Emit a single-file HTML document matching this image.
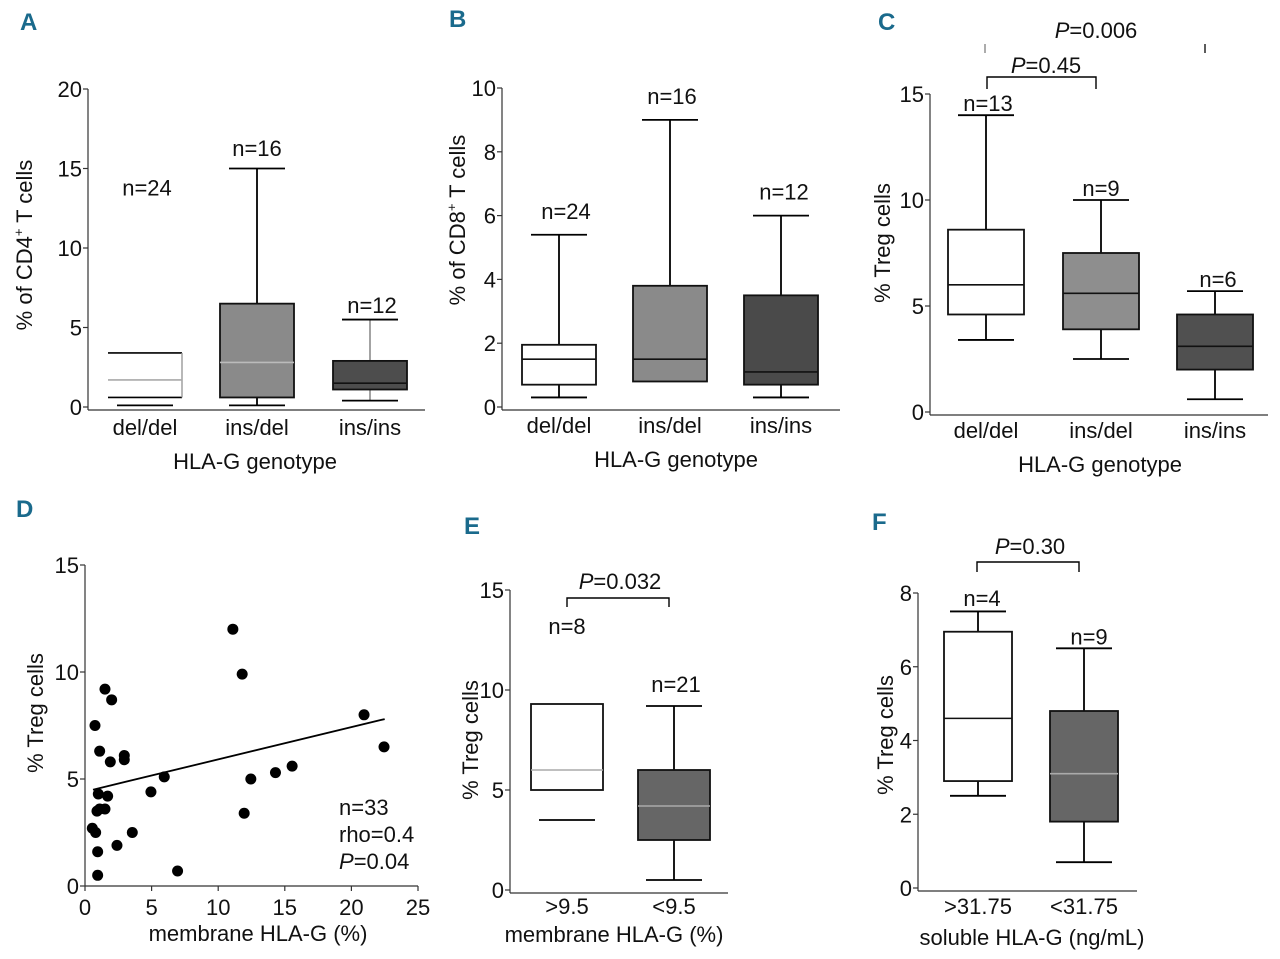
<!DOCTYPE html>
<html><head><meta charset="utf-8"><style>
html,body{margin:0;padding:0;background:#fff;}
svg{display:block;font-family:"Liberation Sans Narrow","Liberation Sans",sans-serif;}
</style></head><body>
<svg id="fig" width="1280" height="959" viewBox="0 0 1280 959"></svg>
<script>
// Panel A data
const aCats=["del/del","ins/del","ins/ins"];
const aMin=[0.1,0.1,0.4];
const aQ1=[0.6,0.6,1.1];
const aMed=[1.7,2.8,1.5];
const aQ3=[3.4,6.5,2.9];
const aMax=[0.1,15,5.5];
const aN=["n=24","n=16","n=12"];
const aTicks=[0,5,10,15,20];
// Panel B data
const bCats=["del/del","ins/del","ins/ins"];
const bMin=[0.3,0.8,0.3];
const bQ1=[0.7,0.8,0.7];
const bMed=[1.5,1.5,1.1];
const bQ3=[1.95,3.8,3.5];
const bMax=[5.4,9,6];
const bN=["n=24","n=16","n=12"];
const bTicks=[0,2,4,6,8,10];
// Panel C data
const cCats=["del/del","ins/del","ins/ins"];
const cMin=[3.4,2.5,0.6];
const cQ1=[4.6,3.9,2.0];
const cMed=[6.0,5.6,3.1];
const cQ3=[8.6,7.5,4.6];
const cMax=[14,10,5.7];
const cN=["n=13","n=9","n=6"];
const cTicks=[0,5,10,15];
// Panel D data
const dX=[11.1,11.8,1.5,2.0,0.75,1.1,1.9,2.95,2.95,5.95,4.95,1.0,1.7,0.9,1.5,1.1,0.55,0.8,3.55,2.4,0.95,0.95,6.95,11.95,12.45,14.3,15.55,20.95,22.45];
const dY=[12.0,9.9,9.2,8.7,7.5,6.3,5.8,6.1,5.9,5.1,4.4,4.3,4.2,3.5,3.6,3.6,2.7,2.5,2.5,1.9,1.6,0.5,0.7,3.4,5.0,5.3,5.6,8.0,6.5];
const dFitX=[0.6,22.5];
const dFitY=[4.5,7.8];
const dXTicks=[0,5,10,15,20,25];
const dYTicks=[0,5,10,15];
// Panel E data
const eCats=[">9.5","<9.5"];
const eMin=[3.5,0.5];
const eQ1=[5.0,2.5];
const eMed=[6.0,4.2];
const eQ3=[9.3,6.0];
const eMax=[9.3,9.2];
const eN=["n=8","n=21"];
const eTicks=[0,5,10,15];
// Panel F data
const fCats=[">31.75","<31.75"];
const fMin=[2.5,0.7];
const fQ1=[2.9,1.8];
const fMed=[4.6,3.1];
const fQ3=[6.95,4.8];
const fMax=[7.5,6.5];
const fN=["n=4","n=9"];
const fTicks=[0,2,4,6,8];

const NS="http://www.w3.org/2000/svg";
const svg=document.getElementById('fig');
function el(tag,attrs,parent,text){
  const e=document.createElementNS(NS,tag);
  for(const k in attrs)e.setAttribute(k,attrs[k]);
  if(text!==undefined)e.textContent=text;
  (parent||svg).appendChild(e);return e;
}
function line(p,x1,y1,x2,y2,c,w){return el('line',{x1,y1,x2,y2,stroke:c||'#000','stroke-width':w||1.5},p);}
function txt(p,x,y,s,size,anchor,extra){
  const t=el('text',Object.assign({x,y,'font-size':size||22,'text-anchor':anchor||'middle',fill:'#111'},extra||{}),p);
  t.innerHTML=s;return t;
}
function letter(x,y,s){
  const t=txt(svg,x,y,s,24,'start',{fill:'#1a6a8c','font-weight':'bold'});
  
  
}
function yaxis(g,ax,yS,ticks,top,bottom){
  const a=line(g,ax,top,ax,bottom,'#333',1.2);
  
  
  ticks.forEach(v=>{
    line(g,ax-5,yS(v),ax,yS(v),'#333',1.2);
    const t=txt(g,ax-6,yS(v)+8,String(v),22,'end');
    
    
  });
}
function boxPanel(o){
  const g=el('g',{});
  
  
  const yS=v=>o.y0-(v-o.ticks[0])*(o.y0-o.yTop)/(o.ticks[o.ticks.length-1]-o.ticks[0]);
  yaxis(g,o.ax,yS,o.ticks,o.yTop,o.y0+3);
  const xa=line(g,o.ax,o.y0+3,o.xEnd,o.y0+3,'#333',1.2);
  
  
  const half=o.bw/2;
  o.cats.forEach((c,i)=>{
    const cx=o.cx[i];
    const bg=el('g',{},g);
    
    
    const fill=o.fills[i];
    const noV=o.noVert&&o.noVert[i];
    if(o.max[i]>o.q3[i]){line(bg,cx,yS(o.q3[i]),cx,yS(o.max[i]),o.wc[i],1.8);line(bg,cx-28,yS(o.max[i]),cx+28,yS(o.max[i]),'#000',1.8);}
    if(o.min[i]<o.q1[i]){if(!noV)line(bg,cx,yS(o.q1[i]),cx,yS(o.min[i]),o.wc[i],1.8);line(bg,cx-28,yS(o.min[i]),cx+28,yS(o.min[i]),'#000',1.8);}
    if(o.open&&o.open[i]){
      line(bg,cx-half,yS(o.q3[i]),cx+half,yS(o.q3[i]),'#000',1.6);
      line(bg,cx-half,yS(o.q1[i]),cx+half,yS(o.q1[i]),'#000',1.6);
      line(bg,cx+half,yS(o.q3[i]),cx+half,yS(o.q1[i]),'#999',1.4);
    } else {
      el('rect',{x:cx-half,y:yS(o.q3[i]),width:o.bw,height:yS(o.q1[i])-yS(o.q3[i]),fill,stroke:'#111','stroke-width':1.8},bg);
    }
    line(bg,cx-half,yS(o.med[i]),cx+half,yS(o.med[i]),o.mc[i],1.6);
    const n=txt(g,o.nx[i],yS(o.ny[i]),o.n[i],22);
    
    
    const cl=txt(g,cx,o.catY,c,22);
    
    
  });
  const xt=txt(g,o.xtX,o.xtY,o.xTitle,22);
  
  
  const yt=txt(g,o.ytX,o.ytY,o.yTitle,22,'middle',{transform:`rotate(-90 ${o.ytX} ${o.ytY})`});
  
  
  return {g,yS};
}
function bracket(g,x1,x2,y,h,label,lx,ly){
  const p=el('path',{d:`M${x1},${y+h}V${y}H${x2}V${y+h}`,fill:'none',stroke:'#000','stroke-width':1.4},g);
  
  
  const t=txt(g,lx,ly,label,22);
  
  
}

letter(20,30,'A');letter(449,27,'B');letter(878,30,'C');
letter(16,517,'D');letter(464,534,'E');letter(872,530,'F');

boxPanel({name:'panel-a',ax:88,y0:407,yTop:89,ticks:aTicks,xEnd:425,cats:aCats,cx:[145,257,370],bw:74,
 min:aMin,q1:aQ1,med:aMed,q3:aQ3,max:aMax,n:aN,nx:[147,257,372],ny:[13.3,15.8,5.9],
 fills:['#fff','#8a8a8a','#4d4d4d'],wc:['#000','#000','#999'],mc:['#aaa','#bbb','#111'],open:[true,false,false],noVert:[true,false,false],
 catY:435,xTitle:'HLA-G genotype',xtX:255,xtY:469,yTitle:'% of CD4<tspan font-size="13" dy="-9">+</tspan><tspan dy="9"> T cells</tspan>',ytX:32,ytY:245});

boxPanel({name:'panel-b',ax:502,y0:407,yTop:88,ticks:bTicks,xEnd:840,cats:bCats,cx:[559,670,781],bw:74,
 min:bMin,q1:bQ1,med:bMed,q3:bQ3,max:bMax,n:bN,nx:[566,672,784],ny:[5.9,9.5,6.5],
 fills:['#fff','#8a8a8a','#4a4a4a'],wc:['#000','#000','#000'],mc:['#111','#111','#111'],
 catY:433,xTitle:'HLA-G genotype',xtX:676,xtY:467,yTitle:'% of CD8<tspan font-size="13" dy="-9">+</tspan><tspan dy="9"> T cells</tspan>',ytX:465,ytY:220});

const C=boxPanel({name:'panel-c',ax:930,y0:412,yTop:94,ticks:cTicks,xEnd:1268,cats:cCats,cx:[986,1101,1215],bw:76,
 min:cMin,q1:cQ1,med:cMed,q3:cQ3,max:cMax,n:cN,nx:[988,1101,1218],ny:[14.2,10.2,5.9],
 fills:['#fff','#8e8e8e','#505050'],wc:['#000','#000','#000'],mc:['#111','#111','#111'],
 catY:438,xTitle:'HLA-G genotype',xtX:1100,xtY:472,yTitle:'% Treg cells',ytX:890,ytY:243});
bracket(C.g,987,1096,77,12,'<tspan font-style="italic">P</tspan>=0.45',1046,73);
line(C.g,985,44,985,53,'#888',1.4);line(C.g,1205,44,1205,53,'#333',1.6);
{const t=txt(C.g,1096,38,'<tspan font-style="italic">P</tspan>=0.006',22);

}

// Panel D scatter
{
 const g=el('g',{});
 
 
 const ax=85,y0=886,yTop=565,x1=418;
 const xS=v=>ax+(v-dXTicks[0])*(x1-ax)/(dXTicks[dXTicks.length-1]-dXTicks[0]);
 const yS=v=>y0-(v-dYTicks[0])*(y0-yTop)/(dYTicks[dYTicks.length-1]-dYTicks[0]);
 yaxis(g,ax,yS,dYTicks,yTop,y0);
 const xa=line(g,ax,y0,x1,y0,'#333',1.2);
 
 
 dXTicks.forEach(v=>{line(g,xS(v),y0,xS(v),y0+5,'#333',1.2);
  const t=txt(g,xS(v),y0+29,String(v),22);
  
  });
 dX.forEach((x,i)=>{const c=el('circle',{cx:xS(x),cy:yS(dY[i]),r:5.5,fill:'#000'},g);
  
  });
 const fl=line(g,xS(dFitX[0]),yS(dFitY[0]),xS(dFitX[1]),yS(dFitY[1]),'#000',1.8);
 
 
 const s=[['n=33',815],['rho=0.4',842],['<tspan font-style="italic">P</tspan>=0.04',869]];
 s.forEach(a=>{const t=txt(g,339,a[1],a[0],22,'start');
  
  });
 const xt=txt(g,258,941,'membrane HLA-G (%)',22);
 
 
 const yt=txt(g,43,713,'% Treg cells',22,'middle',{transform:'rotate(-90 43 713)'});
 
 
}

const E=boxPanel({name:'panel-e',ax:510,y0:890,yTop:590,ticks:eTicks,xEnd:728,cats:eCats,cx:[567,674],bw:72,
 min:eMin,q1:eQ1,med:eMed,q3:eQ3,max:eMax,n:eN,nx:[567,676],ny:[12.8,9.9],
 fills:['#fff','#666'],wc:['#000','#000'],mc:['#aaa','#aaa'],noVert:[true,false],
 catY:914,xTitle:'membrane HLA-G (%)',xtX:614,xtY:942,yTitle:'% Treg cells',ytX:478,ytY:740});
bracket(E.g,567,669,598,9,'<tspan font-style="italic">P</tspan>=0.032',620,589);

const F=boxPanel({name:'panel-f',ax:918,y0:888,yTop:593,ticks:fTicks,xEnd:1137,cats:fCats,cx:[978,1084],bw:68,
 min:fMin,q1:fQ1,med:fMed,q3:fQ3,max:fMax,n:fN,nx:[982,1089],ny:[7.65,6.6],
 fills:['#fff','#666'],wc:['#000','#000'],mc:['#111','#aaa'],
 catY:914,xTitle:'soluble HLA-G (ng/mL)',xtX:1032,xtY:945,yTitle:'% Treg cells',ytX:893,ytY:735});
bracket(F.g,977,1079,562,10,'<tspan font-style="italic">P</tspan>=0.30',1030,554);
</script>
</body></html>
